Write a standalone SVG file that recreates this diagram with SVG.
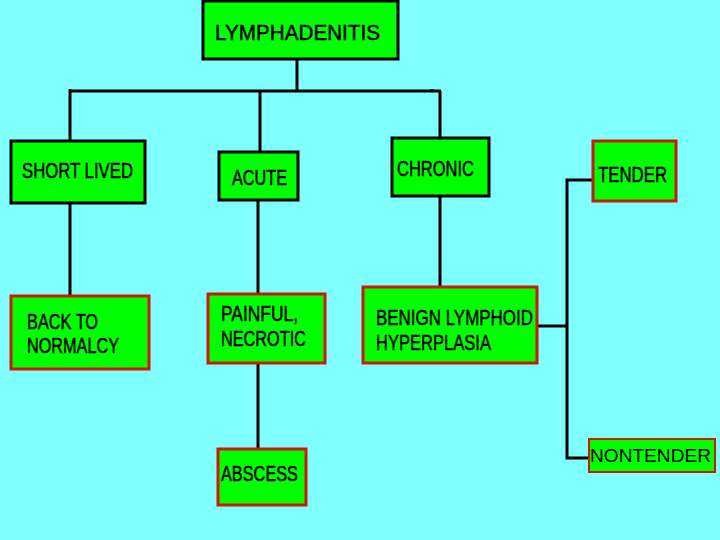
<svg xmlns="http://www.w3.org/2000/svg" width="720" height="540" viewBox="0 0 720 540">
<style>
.bk{fill:#00ff00;stroke:#000;stroke-width:3}
.rd{fill:#00ff00;stroke:#cc1a0a;stroke-width:3}
.t{font-family:"Liberation Sans",Arial,sans-serif;font-size:22px;fill:#000;stroke:#000;stroke-width:0.5}
.c{stroke:#000;stroke-width:3;fill:none}
</style>
<rect x="0" y="0" width="720" height="540" fill="#80ffff"/>
<g id="connectors">
<line class="c" x1="297" y1="59" x2="297" y2="91"/>
<line class="c" x1="70" y1="91" x2="441" y2="91"/>
<line class="c" x1="70" y1="89" x2="70" y2="141"/>
<line class="c" x1="432" y1="89" x2="432" y2="91"/>
<line class="c" x1="260" y1="91" x2="260" y2="152" stroke-width="2"/>
<line class="c" x1="440" y1="91" x2="440" y2="138"/>
<line class="c" x1="70" y1="203" x2="70" y2="296"/>
<line class="c" x1="258" y1="200" x2="258" y2="293"/>
<line class="c" x1="258" y1="364" x2="258" y2="448"/>
<line class="c" x1="440" y1="197" x2="440" y2="287"/>
<line class="c" x1="538" y1="326" x2="567" y2="326"/>
<polyline class="c" points="592,180 567,180 567,458 589,458"/>
</g>
<g id="lymphadenitis">
<rect class="bk" x="203" y="1" width="195" height="58"/>
<text class="t" x="215" y="40" textLength="165" lengthAdjust="spacingAndGlyphs" stroke-width="0.2">LYMPHADENITIS</text>
</g>
<g id="short-lived">
<rect class="bk" x="11" y="141" width="134" height="62"/>
<text class="t" x="22" y="178" textLength="111" lengthAdjust="spacingAndGlyphs">SHORT LIVED</text>
</g>
<g id="acute">
<rect class="bk" x="219" y="152" width="79" height="48"/>
<text class="t" x="232" y="185" textLength="55" lengthAdjust="spacingAndGlyphs">ACUTE</text>
</g>
<g id="chronic">
<rect class="bk" x="392" y="138" width="97" height="58"/>
<text class="t" x="397" y="176" textLength="77" lengthAdjust="spacingAndGlyphs">CHRONIC</text>
</g>
<g id="tender">
<rect class="rd" x="593" y="141" width="83" height="60"/>
<text class="t" x="598" y="182" textLength="69" lengthAdjust="spacingAndGlyphs">TENDER</text>
</g>
<g id="back-to-normalcy">
<rect class="rd" x="11" y="296" width="138" height="73"/>
<text class="t" x="27" y="329" textLength="71" lengthAdjust="spacingAndGlyphs">BACK TO</text>
<text class="t" x="27" y="353" textLength="92" lengthAdjust="spacingAndGlyphs">NORMALCY</text>
</g>
<g id="painful-necrotic">
<rect class="rd" x="208" y="294" width="117" height="69"/>
<text class="t" x="221" y="321" textLength="77" lengthAdjust="spacingAndGlyphs">PAINFUL,</text>
<text class="t" x="221" y="346" textLength="85" lengthAdjust="spacingAndGlyphs">NECROTIC</text>
</g>
<g id="abscess">
<rect class="rd" x="218" y="449" width="88" height="56"/>
<text class="t" x="221" y="481" textLength="77" lengthAdjust="spacingAndGlyphs">ABSCESS</text>
</g>
<g id="benign-lymphoid-hyperplasia">
<rect class="rd" x="363" y="287" width="174" height="76"/>
<text class="t" x="376" y="325" textLength="157" lengthAdjust="spacingAndGlyphs">BENIGN LYMPHOID</text>
<text class="t" x="376" y="350" textLength="115" lengthAdjust="spacingAndGlyphs">HYPERPLASIA</text>
</g>
<g id="nontender">
<rect x="589" y="439" width="126" height="33" fill="#00ff00" stroke="#cc1a0a" stroke-width="2"/>
<text x="590" y="462" font-family="Liberation Sans, Arial, sans-serif" font-size="19" textLength="121" lengthAdjust="spacingAndGlyphs">NONTENDER</text>
</g>
</svg>
